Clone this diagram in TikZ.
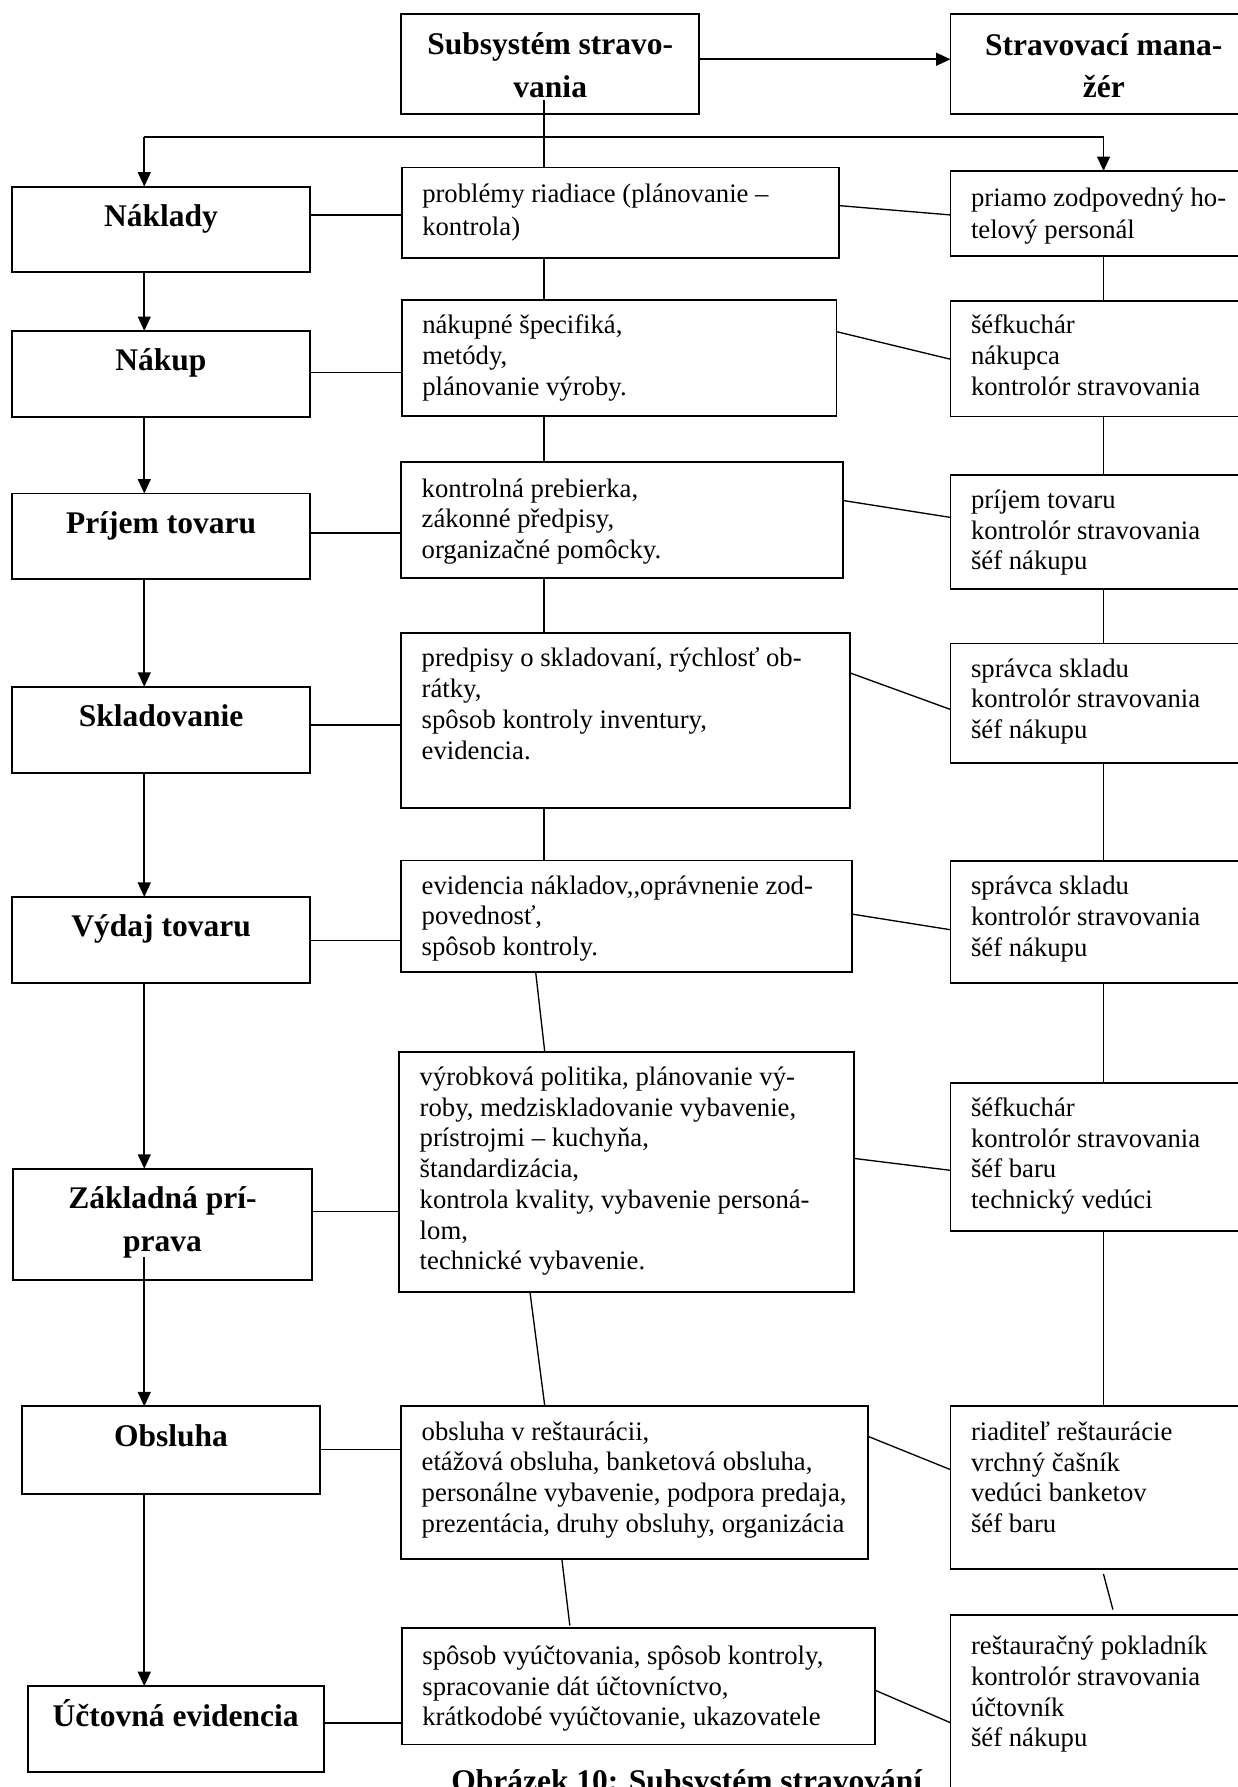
\documentclass[tikz,border=0pt]{standalone}
\usepackage{fontspec}
\setmainfont{Liberation Serif}
\usetikzlibrary{arrows.meta}
\newcommand\lns[2]{\vtop{\baselineskip=#1\lineskiplimit=-100pt\halign{##\hfil\cr#2\crcr}}}
\newcommand\clns[1]{\vtop{\baselineskip=32pt\lineskiplimit=-100pt\halign{\hfil##\hfil\cr#1\crcr}}}
\newcommand\bx[5]{\node[box,anchor=north west,minimum width={(#4-#2)*0.03cm},minimum height={(#5-#3)*0.03cm}] (#1) at (#2,#3) {};}
\newcommand\tx[4][23pt]{\node[body,anchor=base west] (#2t) at ([xshift=0.54cm,yshift={-#3*0.03cm}]#2.north west) {\lns{#1}{#4}};}
\newcommand\ttl[3]{\node[title,anchor=base] (#1t) at ([yshift={-#2*0.03cm}]#1.north) {\clns{#3}};}
\tikzset{
  box/.style={draw=black,line width=1.4pt,inner sep=0pt,outer sep=0pt,rectangle},
  body/.style={font=\fontsize{20}{23}\selectfont,inner sep=0pt,outer sep=0pt},
  title/.style={font=\fontsize{23.6}{32}\selectfont\bfseries,inner sep=0pt,outer sep=0pt},
  arr/.style={line width=1.2pt,-{Triangle[length=0.38cm,width=0.34cm]}},
  hln/.style={line width=1.2pt},
  ln/.style={line width=1pt},
}
\begin{document}
\begin{tikzpicture}[x=0.03cm,y=-0.03cm]
\fill[white] (0,0) rectangle (1086,1568);
\useasboundingbox (0,0) rectangle (1086,1568);
% top boxes
\bx{s}{352}{12}{613.6}{100}
\bx{sm}{834}{12.3}{1103}{100}
\ttl{s}{36}{Subsystém stravo-\cr vania}
\ttl{sm}{36}{Stravovací mana-\cr žér}
% left column
\bx{l1}{10.4}{163.7}{272}{239}
\bx{l2}{10.4}{290.4}{272}{366}
\bx{l3}{10.4}{433}{272.3}{508.2}
\bx{l4}{10.4}{602.6}{272.3}{678}
\bx{l5}{10.4}{787}{272.3}{862.8}
\bx{l6}{11.4}{1025.5}{273.7}{1123}
\bx{l7}{19}{1234}{281}{1310.6}
\bx{l8}{24.2}{1479.5}{284}{1555}
\ttl{l1}{35}{Náklady}
\ttl{l2}{35}{Nákup}
\ttl{l3}{35}{Príjem tovaru}
\ttl{l4}{35}{Skladovanie}
\ttl{l5}{35}{Výdaj tovaru}
\ttl{l6}{35}{Základná prí-\cr prava}
\ttl{l7}{35}{Obsluha}
\ttl{l8}{35}{Účtovná evidencia}
% middle column
\bx{m1}{352.5}{147}{736}{226}
\bx{m2}{352.5}{263}{734}{365}
\bx{m3}{352}{405.3}{740}{507.2}
\bx{m4}{352}{555.2}{745.5}{708.7}
\bx{m5}{352}{755}{747.2}{852.7}
\bx{m6}{350.3}{923}{749}{1133.6}
\bx{m7}{352}{1233.6}{761.6}{1368}
\bx{m8}{352.6}{1428.4}{767.7}{1530.7}
\tx[24.3pt]{m1}{31}{problémy riadiace (plánovanie –\cr kontrola)}
\tx{m2}{30}{nákupné špecifiká,\cr metódy,\cr plánovanie výroby.}
\tx{m3}{31}{kontrolná prebierka,\cr zákonné předpisy,\cr organizačné pomôcky.}
\tx{m4}{30}{predpisy o skladovaní, rýchlosť ob-\cr rátky,\cr spôsob kontroly inventury,\cr evidencia.}
\tx{m5}{29.5}{evidencia nákladov,{},oprávnenie zod-\cr povednosť,\cr spôsob kontroly.}
\tx{m6}{29.5}{výrobková politika, plánovanie vý-\cr roby, medziskladovanie vybavenie,\cr prístrojmi – kuchyňa,\cr štandardizácia,\cr kontrola kvality, vybavenie personá-\cr lom,\cr technické vybavenie.}
\tx{m7}{30}{obsluha v reštaurácii,\cr etážová obsluha, banketová obsluha,\cr personálne vybavenie, podpora predaja,\cr prezentácia, druhy obsluhy, organizácia}
\tx{m8}{32}{spôsob vyúčtovania, spôsob kontroly,\cr spracovanie dát účtovníctvo,\cr krátkodobé vyúčtovanie, ukazovatele}
% right column
\bx{r1}{834}{150}{1103}{225}
\bx{r2}{834}{264}{1103}{365.5}
\bx{r3}{834}{416.7}{1103}{517}
\bx{r4}{834}{564.6}{1103}{669.5}
\bx{r5}{834}{755.6}{1103}{862.5}
\bx{r6}{834}{950.5}{1103}{1080}
\bx{r7}{834}{1234}{1103}{1377}
\bx{r8}{834}{1416.8}{1103}{1620}
\tx[24.3pt]{r1}{31}{priamo zodpovedný ho-\cr telový personál}
\tx{r2}{29}{šéfkuchár\cr nákupca\cr kontrolór stravovania}
\tx{r3}{29.5}{príjem tovaru\cr kontrolór stravovania\cr šéf nákupu}
\tx{r4}{29.5}{správca skladu\cr kontrolór stravovania\cr šéf nákupu}
\tx{r5}{29.5}{správca skladu\cr kontrolór stravovania\cr šéf nákupu}
\tx{r6}{29}{šéfkuchár\cr kontrolór stravovania\cr šéf baru\cr technický vedúci}
\tx{r7}{30}{riaditeľ reštaurácie\cr vrchný čašník\cr vedúci banketov\cr šéf baru}
\tx{r8}{35}{reštauračný pokladník\cr kontrolór stravovania\cr účtovník\cr šéf nákupu}
% caption
\node[title,anchor=base west] (cap) at (396,1572) {Obrázek 10: Subsystém stravování};
% coordinates
\coordinate (sin) at (477.3,88);
\coordinate (hl) at (126.6,120);
\coordinate (hr) at (968.3,120);
\coordinate (mx) at (477.3,0);
\coordinate (rx) at (968.5,0);
\coordinate (zin) at (126.6,1103);
\coordinate (g1) at (968.2,1381);
\coordinate (g2) at (976.5,1412.3);
% top connectors
\draw[arr] (s.east |- 0,52) -- (sm.west |- 0,52);
\draw[ln] (sin) -- (m1.north -| sin);
\draw[hln] (hl) -- (hr);
\draw[arr] (hl) -- (l1.north -| hl);
\draw[arr] (hr) -- (r1.north -| hr);
% left arrows
\draw[arr] (l1.south -| hl) -- (l2.north -| hl);
\draw[arr] (l2.south -| hl) -- (l3.north -| hl);
\draw[arr] (l3.south -| hl) -- (l4.north -| hl);
\draw[arr] (l4.south -| hl) -- (l5.north -| hl);
\draw[arr] (l5.south -| hl) -- (l6.north -| hl);
\draw[arr] (zin) -- (l7.north -| zin);
\draw[arr] (l7.south -| hl) -- (l8.north -| hl);
% left to middle
\draw[hln] (l1.east |- 0,188.6) -- (m1.west |- 0,188.6);
\draw[hln] (l2.east |- 0,327) -- (m2.west |- 0,327);
\draw[hln] (l3.east |- 0,467.7) -- (m3.west |- 0,467.7);
\draw[hln] (l4.east |- 0,636) -- (m4.west |- 0,636);
\draw[hln] (l5.east |- 0,825.4) -- (m5.west |- 0,825.4);
\draw[hln] (l6.east |- 0,1063) -- (m6.west |- 0,1063);
\draw[hln] (l7.east |- 0,1271.7) -- (m7.west |- 0,1271.7);
\draw[hln] (l8.east |- 0,1511.6) -- (m8.west |- 0,1511.6);
% middle verticals
\draw[ln] (m1.south -| mx) -- (m2.north -| mx);
\draw[ln] (m2.south -| mx) -- (m3.north -| mx);
\draw[ln] (m3.south -| mx) -- (m4.north -| mx);
\draw[ln] (m4.south -| mx) -- (m5.north -| mx);
\draw[ln] (m5.south -| 470,0) -- (m6.north -| 478,0);
\draw[ln] (m6.south -| 465,0) -- (m7.north -| 478,0);
\draw[ln] (m7.south -| 493,0) -- ([yshift=0.06cm]m8.north -| 500,0);
% middle to right
\draw[ln] (m1.east |- 0,180.4) -- (r1.west |- 0,188.6);
\draw[ln] (m2.east |- 0,291) -- (r2.west |- 0,315.2);
\draw[ln] (m3.east |- 0,439.2) -- (r3.west |- 0,454);
\draw[ln] (m4.east |- 0,590.3) -- (r4.west |- 0,622.5);
\draw[ln] (m5.east |- 0,802) -- (r5.west |- 0,815.8);
\draw[ln] (m6.east |- 0,1016.4) -- (r6.west |- 0,1026.9);
\draw[ln] (m7.east |- 0,1260.3) -- (r7.west |- 0,1289.5);
\draw[ln] (m8.east |- 0,1483) -- (r8.west |- 0,1511.6);
% right verticals
\draw[ln] (r1.south -| rx) -- (r2.north -| rx);
\draw[ln] (r2.south -| rx) -- (r3.north -| rx);
\draw[ln] (r3.south -| rx) -- (r4.north -| rx);
\draw[ln] (r4.south -| rx) -- (r5.north -| rx);
\draw[ln] (r5.south -| rx) -- (r6.north -| rx);
\draw[ln] (r6.south -| rx) -- (r7.north -| rx);
\draw[ln] (g1) -- (g2);
\end{tikzpicture}
\end{document}
